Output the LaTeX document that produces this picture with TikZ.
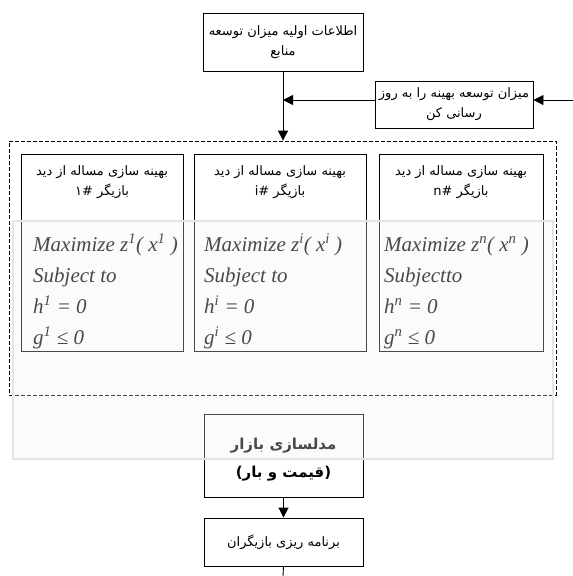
\documentclass[tikz,border=0pt]{standalone}
\usepackage{fontspec}
\setmainfont{Liberation Serif}
\newfontfamily\farsi[Script=Arabic]{DejaVu Sans}
\TeXXeTstate=1
\usetikzlibrary{arrows.meta,positioning,calc}

\tikzset{
  box/.style={draw, line width=0.9pt, align=center, inner sep=2pt,
    font=\farsi\fontsize{13}{20}\selectfont},
  playerbox/.style={draw, line width=0.9pt, minimum height=197pt},
  mathline/.style={anchor=base west, inner sep=0pt,
    font=\fontsize{21}{25}\selectfont\itshape},
  overlay/.style={fill=gray!10, fill opacity=0.3, draw=gray!20, line width=1.3pt}
}

\begin{document}
\begin{tikzpicture}[x=1pt, y=-1pt, >={Triangle[length=10pt,width=10pt]}]
    \useasboundingbox (0,0) rectangle (573,576);

    % Initial data
    \node[box, minimum width=160pt, minimum height=58pt] (init) at (283,42)
        {\beginR اطلاعات اولیه میزان توسعه\endR\\\beginR منابع\endR};

    % Update step
    \node[box, minimum width=158pt, minimum height=47pt] (update) at (454,104.5)
        {\beginR میزان توسعه بهینه را به روز\endR\\\beginR رسانی کن\endR};

    % Players frame
    \node[draw, dash pattern=on 4pt off 2pt, line width=0.8pt,
          minimum width=547pt, minimum height=254pt] (players) at (282.5,268) {};

    % Player boxes
    \foreach \n/\cx/\w/\mx/\id/\sp/\subj in {
        1/102/162/33/{۱\#}/1/{Subject to},
        i/280/172/204/{i\#}/i/{Subject to},
        n/461/164/384/{n\#}/n/{Subjectto}} {
        \node[playerbox, minimum width=\w pt] (player\n) at (\cx,252.5) {};
        \node[box, draw=none, anchor=north] (head\n) at (\cx,163)
            {\beginR بهینه سازی مساله از دید\endR\\\beginR بازیگر \beginL\id\endL\endR};
        \node[mathline] (max\n) at (\mx,251) {Maximize z\textsuperscript{\sp}( x\textsuperscript{\sp} )};
        \node[mathline] (subj\n) at (\mx,282) {\subj};
        \node[mathline] (eq\n) at (\mx,313) {h\textsuperscript{\sp} = 0};
        \node[mathline] (ineq\n) at (\mx,344) {g\textsuperscript{\sp} ≤ 0};
    }

    % Market model
    \node[box, minimum width=159pt, minimum height=83pt] (market) at (283.5,455.5) {};
    \node[box, draw=none, font=\farsi\bfseries\fontsize{15}{28}\selectfont]
        (markettext) at (283.5,460)
        {\beginR مدلسازی بازار\endR\\\beginR(قیمت و بار)\endR};

    % Players schedule
    \node[box, minimum width=159pt, minimum height=48pt] (schedule) at (283.5,542)
        {\beginR برنامه ریزی بازیگران\endR};

    % Connectors
    \coordinate (feed) at (573,100);
    \coordinate (join) at (283,100);
    \coordinate (exit) at (283,576);
    \draw[->, line width=0.9pt] (init.south) -- (init.south |- players.north);
    \draw[->, line width=0.9pt] (update.west |- join) -- (join);
    \draw[->, line width=0.9pt] (feed) -- (update.east |- feed);
    \draw[->, line width=0.9pt] (market.south) -- (schedule.north);
    \draw[line width=0.9pt] (schedule.south) -- (exit);

    % Shaded overlay
    \draw[overlay] (13,221) rectangle (553,459);

\end{tikzpicture}
\end{document}
